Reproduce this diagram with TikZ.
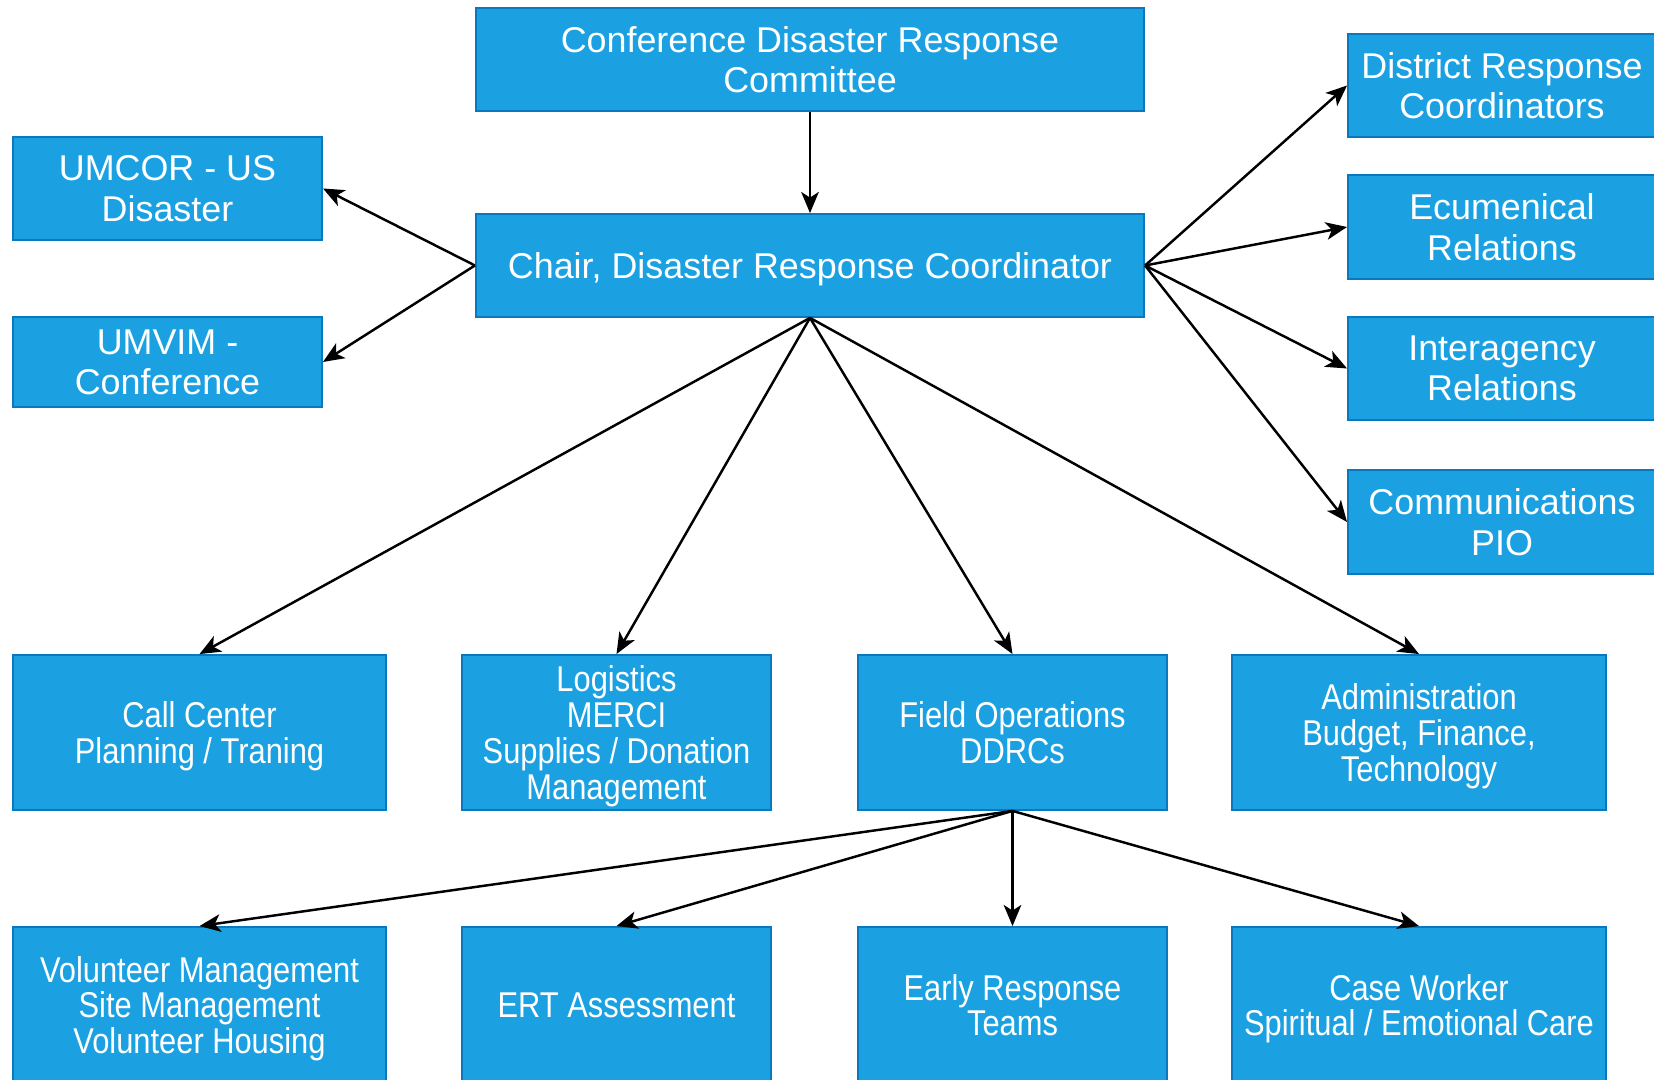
\documentclass[tikz,border=0pt]{standalone}
\usepackage{fontspec}
\setmainfont{Liberation Sans}
\newfontfamily\narrowsf[FakeStretch=0.86]{Liberation Sans}
\usetikzlibrary{arrows.meta}
\definecolor{boxblue}{HTML}{1BA1E2}
\definecolor{boxline}{HTML}{0A78BE}

\begin{document}
\begin{tikzpicture}[x=0.01cm,y=-0.01cm]
    \tikzstyle role=[draw=boxline,fill=boxblue,text=white,line width=0.5pt,inner sep=0pt,text depth=0pt,align=center,font=\fontsize{10.2}{11.4}\selectfont]
    \tikzstyle team=[role,minimum height=1.55cm,font=\narrowsf\fontsize{10.2}{10.2}\selectfont]
    \tikzstyle link=[line width=0.7pt,-{Stealth[length=6pt,width=5pt,inset=1.6pt]}]
    \useasboundingbox (0,0) rectangle (1654,1080);
    \clip (0,0) rectangle (1654,1080);
    \node[role,minimum width=6.68cm,minimum height=1.03cm] (conf) at (810,59.5) {Conference Disaster Response\\Committee};
    \node[role,minimum width=6.68cm,minimum height=1.03cm] (chair) at (810,265.5) {Chair, Disaster Response Coordinator};
    \node[role,minimum width=3.09cm,minimum height=1.03cm] (umcor) at (167.5,188.5) {UMCOR - US\\Disaster};
    \node[role,minimum width=3.09cm,minimum height=0.90cm] (umvim) at (167.5,362) {UMVIM -\\Conference};
    \node[role,minimum width=3.08cm,minimum height=1.03cm] (district) at (1502,85.5) {District Response\\Coordinators};
    \node[role,minimum width=3.08cm,minimum height=1.04cm] (ecum) at (1502,227) {Ecumenical\\Relations};
    \node[role,minimum width=3.08cm,minimum height=1.03cm] (inter) at (1502,368.5) {Interagency\\Relations};
    \node[role,minimum width=3.08cm,minimum height=1.04cm] (comm) at (1502,522) {Communications\\PIO};
    \node[team,minimum width=3.73cm] (call) at (199.5,732.5) {Call Center\\Planning / Traning};
    \node[team,minimum width=3.09cm] (logi) at (616.5,732.5) {Logistics\\MERCI\\Supplies / Donation\\Management};
    \node[team,minimum width=3.09cm] (field) at (1012.5,732.5) {Field Operations\\DDRCs};
    \node[team,minimum width=3.74cm] (admin) at (1419,732.5) {Administration\\Budget, Finance,\\Technology};
    \node[team,minimum width=3.73cm,minimum height=1.56cm] (vol) at (199.5,1005) {Volunteer Management\\Site Management\\Volunteer Housing};
    \node[team,minimum width=3.09cm,minimum height=1.56cm] (ert) at (616.5,1005) {ERT Assessment};
    \node[team,minimum width=3.09cm,minimum height=1.56cm] (early) at (1012.5,1005) {Early Response\\Teams};
    \node[team,minimum width=3.74cm,minimum height=1.56cm] (case) at (1419,1005) {Case Worker\\Spiritual / Emotional Care};
    \draw[link] (conf.south) -- (chair.north);
    \draw[link] (chair.west) -- (umcor.east);
    \draw[link] (chair.west) -- (umvim.east);
    \draw[link] (chair.east) -- (district.west);
    \draw[link] (chair.east) -- (ecum.west);
    \draw[link] (chair.east) -- (inter.west);
    \draw[link] (chair.east) -- (comm.west);
    \draw[link] (chair.south) -- (call.north);
    \draw[link] (chair.south) -- (logi.north);
    \draw[link] (chair.south) -- (field.north);
    \draw[link] (chair.south) -- (admin.north);
    \draw[link] (field.south) -- (vol.north);
    \draw[link] (field.south) -- (ert.north);
    \draw[link] (field.south) -- (early.north);
    \draw[link] (field.south) -- (case.north);
\end{tikzpicture}
\end{document}
